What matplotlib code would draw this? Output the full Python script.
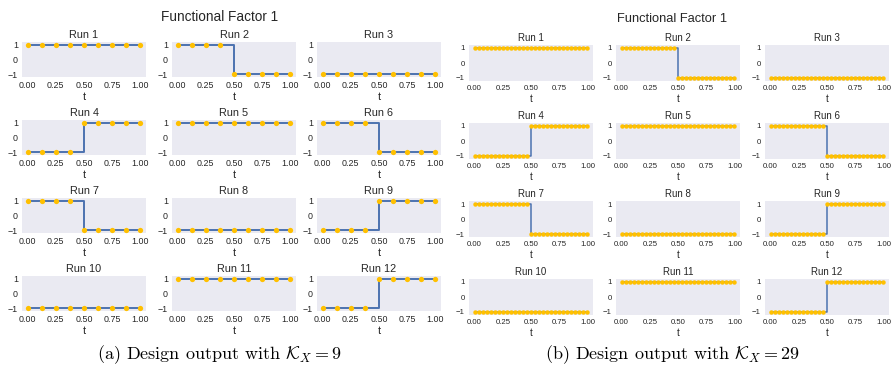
import numpy as np
import matplotlib
matplotlib.use("Agg")
import matplotlib.pyplot as plt

plt.rcParams['mathtext.fontset'] = 'cm'
plt.rcParams['font.family'] = ['Liberation Sans', 'DejaVu Sans']

# ---- data ----
run_labels = [f"Run {i}" for i in range(1, 13)]
# level before switch (t < 0.5) and after switch (t >= 0.5) for each run
level_before = [1, 1, -1, -1, 1, 1, 1, -1, -1, -1, 1, -1]
level_after = [1, -1, -1, 1, 1, -1, -1, -1, 1, -1, 1, 1]
switch_t = 0.5
n_points_a = 9
n_points_b = 29
xticks = [0.0, 0.25, 0.5, 0.75, 1.0]
xtick_labels = ["0.00", "0.25", "0.50", "0.75", "1.00"]
yticks = [-1, 0, 1]
ytick_labels = ["\u22121", "0", "1"]
suptitle = "Functional Factor 1"
caption_a = r"(a) Design output with $\mathcal{K}_X = 9$"
caption_b = r"(b) Design output with $\mathcal{K}_X = 29$"

W, H = 894, 379
fig = plt.figure(figsize=(W / 100, H / 100), dpi=100)

BG = "#EAEAF2"
LINE = "#4C72B0"
MARK = "#FFC000"


def px_axes(left, top, w, h):
    return fig.add_axes([left / W, 1 - (top + h) / H, w / W, h / H])


def draw_panel(lefts, tops, w, h, npts, tick_fs, title_fs, ms, lw):
    t = np.linspace(0, 1, npts)
    for k in range(12):
        r, c = divmod(k, 3)
        ax = px_axes(lefts[c], tops[r], w, h)
        vals = np.where(t < switch_t, level_before[k], level_after[k])
        ax.set_facecolor(BG)
        ax.plot(t, vals, color=LINE, lw=lw, drawstyle='steps-post', zorder=2)
        ax.plot(t, vals, ls='none', marker='o', ms=ms, color=MARK,
                markeredgewidth=0, zorder=3)
        ax.set_ylim(-1.2, 1.2)
        ax.set_xlim(-0.05, 1.05)
        ax.set_xticks(xticks)
        ax.set_xticklabels(xtick_labels)
        ax.set_yticks(yticks)
        ax.set_yticklabels(ytick_labels)
        ax.tick_params(length=0, labelsize=tick_fs, colors="#262626", pad=3)
        for s in ax.spines.values():
            s.set_visible(False)
        ax.set_title(run_labels[k], fontsize=title_fs, color="#262626", pad=3)
        ax.set_xlabel("t", fontsize=title_fs, color="#262626", labelpad=1)


# panel (a)
draw_panel([22, 172, 317], [42, 120, 198, 276], 124, 35, n_points_a,
           tick_fs=6.4, title_fs=7.8, ms=3.8, lw=1.4)
fig.text(220 / W, 1 - 17 / H, suptitle, ha='center', va='center',
         fontsize=9.8, color="#262626")

# panel (b)
draw_panel([469, 616, 765], [45, 123, 201, 279], 124, 36, n_points_b,
           tick_fs=5.6, title_fs=7.0, ms=3.2, lw=1.1)
fig.text(672 / W, 1 - 19 / H, suptitle, ha='center', va='center',
         fontsize=9.3, color="#262626")

fig.text(220 / W, 1 - 355 / H, caption_a, ha='center', va='center',
         fontsize=13, family='cmr10')
fig.text(673 / W, 1 - 355 / H, caption_b, ha='center', va='center',
         fontsize=13, family='cmr10')

fig.savefig("out.png", dpi=100)
